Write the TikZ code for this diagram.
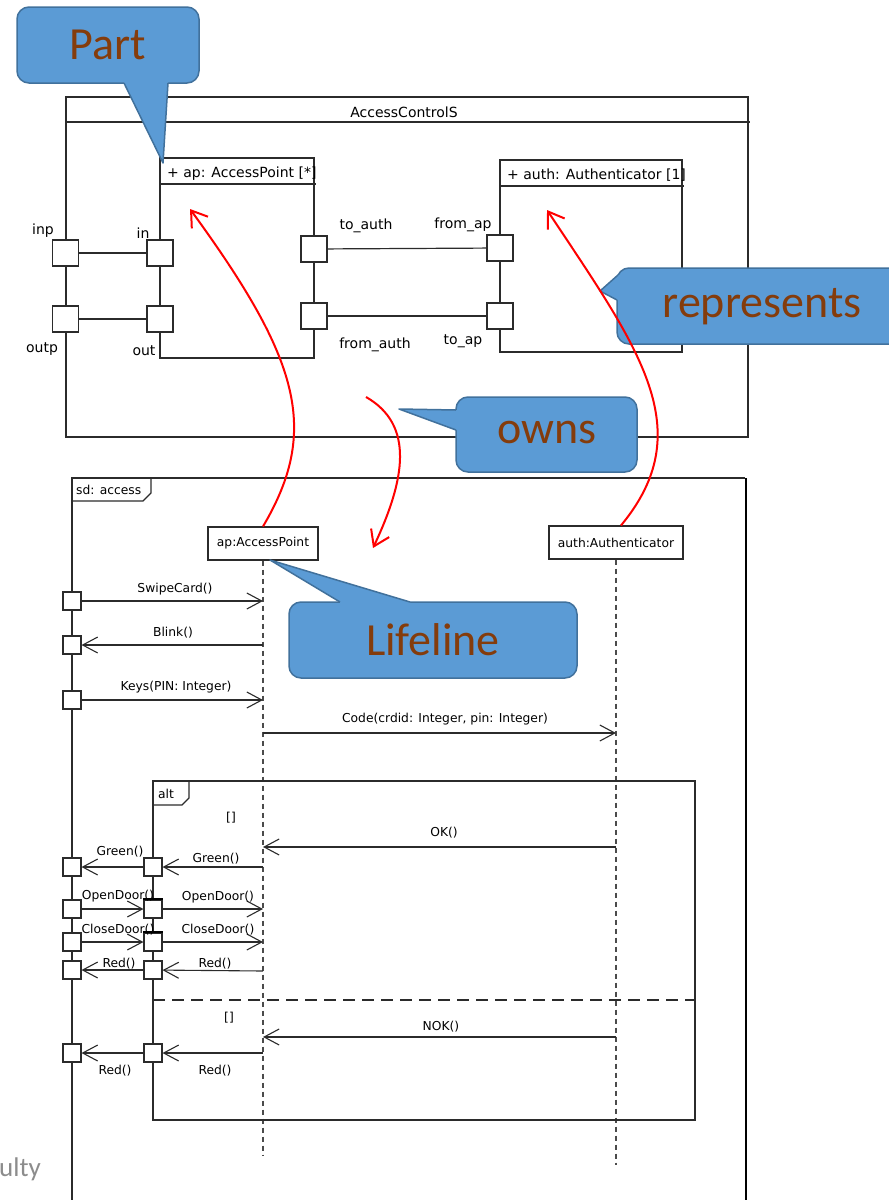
\documentclass[tikz,border=0pt]{standalone}
\usepackage{fontspec}
\setmainfont{DejaVu Sans}
\newfontfamily\calloutfont{Carlito}
\usetikzlibrary{arrows.meta}
\definecolor{umlline}{HTML}{2B2B2B}
\definecolor{calloutfill}{HTML}{5B9BD5}
\definecolor{calloutedge}{HTML}{41719C}
\definecolor{callouttext}{HTML}{843C0C}
\definecolor{footgray}{HTML}{8C8C8C}

\begin{document}
\begin{tikzpicture}[x=1pt,y=-1pt,
  umlbox/.style={draw=umlline, line width=1.2pt},
  port/.style={draw=umlline, fill=white, line width=1.2pt, minimum size=26pt, inner sep=0pt},
  gate/.style={draw=umlline, fill=white, line width=1.1pt, minimum size=18pt, inner sep=0pt},
  wire/.style={draw=umlline, line width=1.2pt},
  clabel/.style={font=\fontsize{14}{16}\selectfont, text=black, inner sep=0pt},
  slabel/.style={font=\fontsize{12.3}{14}\selectfont, text=black, inner sep=0pt},
  msg/.style={draw=umlline, line width=1.1pt, -{Straight Barb[length=15pt,width=16pt]}},
  lifeline/.style={draw=umlline!85, line width=1.1pt, dash pattern=on 5pt off 4pt},
  headbox/.style={draw=umlline, fill=white, line width=1.1pt, minimum height=33pt, inner sep=0pt, font=\fontsize{12.3}{14}\selectfont},
  callbox/.style={fill=calloutfill, draw=calloutedge, line width=1.5pt, rounded corners=12pt},
  callfill/.style={fill=calloutfill},
  calledge/.style={draw=calloutedge, line width=1.5pt, line join=round},
  calltext/.style={font=\calloutfont\fontsize{46}{50}\selectfont, text=callouttext, inner sep=0pt},
  relation/.style={draw=red, line width=2pt, -{Straight Barb[length=15pt,width=20pt]}},
]
\useasboundingbox (0,0) rectangle (889,1200);
\clip (0,0) rectangle (889,1200);

% ---------- composite structure: AccessControlS ----------
\draw[umlbox] (66,97) rectangle (748,437);
\draw[umlbox] (66,122) -- (750,122);
\node[clabel] (title) at (404,112) {AccessControlS};

% part ap
\draw[umlbox] (160,158) rectangle (314,358);
\draw[umlbox] (160,184) -- (316,184);
\node[clabel, anchor=west] (apPartName) at (167,174) {+ ap: AccessPoint [*]};

% part auth
\draw[umlbox] (500,160) rectangle (682,352);
\draw[umlbox] (500,186) -- (684,186);
\node[clabel, anchor=west] (authPartName) at (507,175) {+ auth: Authenticator [1]};

% ports
\node[port] (inp) at (65.5,253) {};
\node[port] (outp) at (65.5,319) {};
\node[port] (in) at (160,253) {};
\node[port] (out) at (160,319) {};
\node[port] (toauth) at (314,249) {};
\node[port] (fromap) at (500,248) {};
\node[port] (fromauth) at (314,316) {};
\node[port] (toap) at (500,316) {};

% connectors between ports
\draw[wire] (inp) -- (in);
\draw[wire] (outp) -- (out);
\draw[wire] (toauth) -- (fromap);
\draw[wire] (fromauth) -- (toap);

% port labels
\node[clabel] (inpL) at (43,231) {inp};
\node[clabel] (inL) at (143,233) {in};
\node[clabel] (outpL) at (42,349) {outp};
\node[clabel] (outL) at (144,351) {out};
\node[clabel] (toauthL) at (366,226) {to\_auth};
\node[clabel] (fromapL) at (463,225) {from\_ap};
\node[clabel] (fromauthL) at (375,345) {from\_auth};
\node[clabel] (toapL) at (463,341) {to\_ap};

% ---------- sequence diagram: sd access ----------
\draw[umlline, line width=1.1pt] (72,1210) -- (72,478) -- (745,478);
\draw[black, line width=2.6pt] (746,478) -- (746,1210);
\draw[umlline, line width=1.1pt] (72,501) -- (143,501) -- (151,493) -- (151,478);
\node[slabel, anchor=west] (sdName) at (76,490) {sd: access};

% lifelines
\node[headbox, minimum width=110pt] (apHead) at (263,543.5) {ap:AccessPoint};
\node[headbox, minimum width=134pt] (authHead) at (616,542.5) {auth:Authenticator};
\coordinate (apEnd) at (263,1155);
\coordinate (authEnd) at (616,1165);
\draw[lifeline] (apHead.south) -- (apEnd);
\draw[lifeline] (authHead.south) -- (authEnd);

% combined fragment alt
\draw[umlline, line width=1.1pt] (153,781) rectangle (695,1120);
\draw[umlline, line width=1.1pt] (153,805) -- (182,805) -- (189,798) -- (189,781);
\node[slabel, anchor=west] (altName) at (158,794) {alt};
\coordinate (sepL) at (153,1000);
\coordinate (sepR) at (695,1000);
\draw[umlline, line width=2pt, dash pattern=on 12pt off 7pt] (sepL) -- (sepR);
\node[slabel] (guardA) at (231,818) {[]};
\node[slabel] (guardB) at (229,1018) {[]};

% points on the lifelines
\coordinate (apSwipe) at (263,601);
\coordinate (apBlink) at (263,645);
\coordinate (apKeys) at (263,700);
\coordinate (apCode) at (263,733);
\coordinate (auCode) at (616,733);
\coordinate (auOK) at (616,847);
\coordinate (apOK) at (263,847);
\coordinate (apGreen) at (263,867);
\coordinate (apOpen) at (263,909);
\coordinate (apClose) at (263,942);
\coordinate (apRed) at (263,971);
\coordinate (auNOK) at (616,1037);
\coordinate (apNOK) at (263,1037);
\coordinate (apRedB) at (263,1053);

% gates on the sd frame
\node[gate] (gSwipe) at (72,601) {};
\node[gate] (gBlink) at (72,645) {};
\node[gate] (gKeys) at (72,700) {};
\node[gate] (fGreen) at (72,867) {};
\node[gate] (fOpen) at (72,909) {};
\node[gate] (fClose) at (72,942) {};
\node[gate] (fRed) at (72,970) {};
\node[gate] (fRedB) at (72,1053) {};

% gates on the alt fragment
\node[gate] (aGreen) at (153,867) {};
\node[gate] (aOpen) at (153,909) {};
\node[gate] (aClose) at (153,942) {};
\node[gate] (aRed) at (153,970) {};
\node[gate] (aRedB) at (153,1053) {};
\draw[black, line width=2pt] (aOpen.north west) -- (aOpen.north east);
\draw[black, line width=2pt] (aClose.north west) -- (aClose.north east);

% messages
\draw[msg] (gSwipe) -- (apSwipe);
\draw[msg] (apBlink) -- (gBlink);
\draw[msg] (gKeys) -- (apKeys);
\draw[msg] (apCode) -- (auCode);
\draw[msg] (auOK) -- (apOK);
\draw[msg] (apGreen) -- (aGreen);
\draw[msg] (aGreen) -- (fGreen);
\draw[msg] (fOpen) -- (aOpen);
\draw[msg] (aOpen) -- (apOpen);
\draw[msg] (fClose) -- (aClose);
\draw[msg] (aClose) -- (apClose);
\draw[msg] (apRed) -- (aRed);
\draw[msg] (aRed) -- (fRed);
\draw[msg] (auNOK) -- (apNOK);
\draw[msg] (apRedB) -- (aRedB);
\draw[msg] (aRedB) -- (fRedB);

% message labels
\node[slabel] (lSwipe) at (175,589) {SwipeCard()};
\node[slabel] (lBlink) at (173,633) {Blink()};
\node[slabel] (lKeys) at (176,687) {Keys(PIN: Integer)};
\node[slabel] (lCode) at (445,719) {Code(crdid: Integer, pin: Integer)};
\node[slabel] (lOK) at (444,833) {OK()};
\node[slabel] (lGreenA) at (216,859) {Green()};
\node[slabel] (lGreenF) at (120,852) {Green()};
\node[slabel] (lOpenF) at (118,896) {OpenDoor()};
\node[slabel] (lOpenA) at (218,897) {OpenDoor()};
\node[slabel] (lCloseF) at (118,930) {CloseDoor()};
\node[slabel] (lCloseA) at (218,930) {CloseDoor()};
\node[slabel] (lRedF) at (119,964) {Red()};
\node[slabel] (lRedA) at (215,964) {Red()};
\node[slabel] (lNOK) at (441,1027) {NOK()};
\node[slabel] (lRedBF) at (115,1071) {Red()};
\node[slabel] (lRedBA) at (215,1071) {Red()};

% ---------- callouts ----------
% Part
\draw[callbox] (17,7) rectangle (199,83);
\fill[callfill] (124,79) -- (124,83) -- (163,163) -- (168,83) -- (168,79) -- cycle;
\draw[calledge] (124,83) -- (163,163) -- (168,83);
\node[calltext] (partText) at (108,45) {Part};

% represents
\draw[callbox] (617,268) rectangle (906,344);
\fill[callfill] (622,275) -- (618,275) -- (600,291) -- (617,300) -- (622,300) -- cycle;
\draw[calledge] (618,275) -- (600,291) -- (617,300);
\node[calltext] (repText) at (762,307) {represents};

% owns
\draw[callbox] (456,397) rectangle (637,472);
\fill[callfill] (460,410) -- (456,410) -- (399,409) -- (456,430) -- (460,430) -- cycle;
\draw[calledge] (456,410) -- (399,409) -- (456,430);
\node[calltext] (ownsText) at (547,433) {owns};

% Lifeline
\draw[callbox] (289,602) rectangle (577,678);
\fill[callfill] (340,606) -- (340,602) -- (270,560) -- (410,602) -- (410,606) -- cycle;
\draw[calledge] (340,602) -- (270,560) -- (410,602);
\node[calltext] (lifeText) at (433,640) {Lifeline};

% ---------- relations between the two diagrams ----------
\coordinate (apPartIn) at (190,209);
\coordinate (authPartIn) at (547,210);
\coordinate (ownsFrom) at (366,397);
\coordinate (ownsTo) at (373,548);
\draw[relation] (apHead.north) .. controls (320,430) and (300,360) .. (apPartIn);
\draw[relation] ([xshift=5pt]authHead.north) .. controls (700,430) and (640,350) .. (authPartIn);
\draw[relation] (ownsFrom) .. controls (415,425) and (405,480) .. (ownsTo);

% footer fragment
\node[anchor=base west, inner sep=0pt, text=footgray, font=\calloutfont\fontsize{27}{30}\selectfont] (foot) at (-1,1176) {ulty};
\end{tikzpicture}
\end{document}
